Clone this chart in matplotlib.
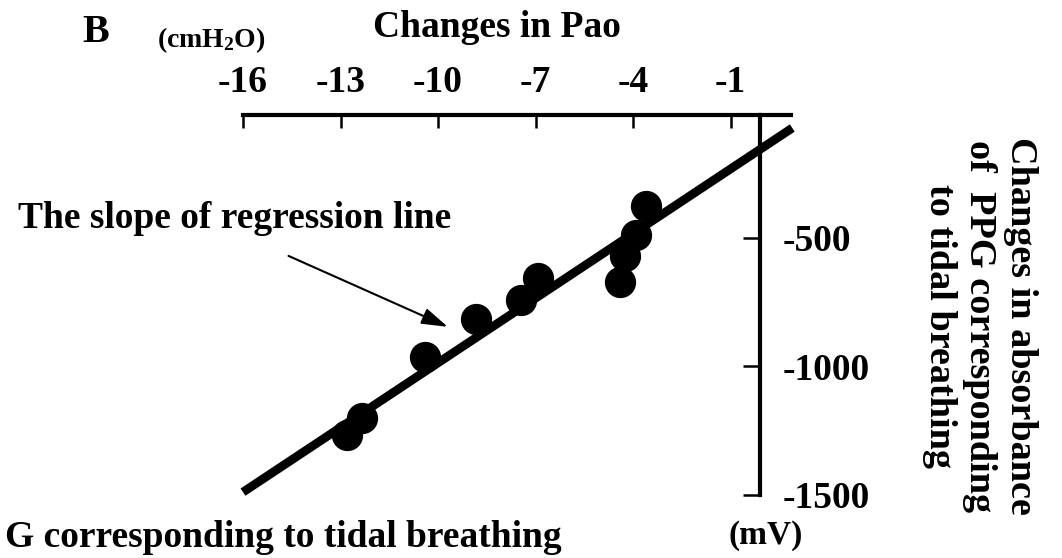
import matplotlib
matplotlib.use('Agg')
import matplotlib.pyplot as plt
import numpy as np

# data
pao = [-12.81, -12.34, -10.41, -8.83, -7.46, -6.91, -4.41, -4.24, -3.92, -3.61]
ppg = [-1265, -1199, -964, -816, -742, -657, -670, -572, -490, -376]
slope = 83.8
intercept = -148
line_x = [-16, 0.9]
xticks = [-16, -13, -10, -7, -4, -1]
xlabels = ['-16', '-13', '-10', '-7', '-4', '-1']
yticks = [-500, -1000, -1500]
ylabels = ['-500', '-1000', '-1500']

plt.rcParams['font.family'] = 'Liberation Serif'
plt.rcParams['font.weight'] = 'bold'
plt.rcParams['mathtext.fontset'] = 'custom'
plt.rcParams['mathtext.rm'] = 'Liberation Serif:bold'
plt.rcParams['mathtext.default'] = 'rm'

W, H = 1062, 558
fig = plt.figure(figsize=(W/100, H/100), dpi=100)
ax = fig.add_axes([243/W, 1-495/H, 548/W, 380/H])

# regression line and points
line_y = [intercept + slope*x for x in line_x]
ax.plot(line_x, line_y, color='k', lw=6.3, solid_capstyle='butt', clip_on=False, zorder=2)
ax.plot(pao, ppg, 'o', ms=21.5, color='k', mec='k', clip_on=False, zorder=3)

ax.set_xlim(-16, 0.86)
ax.set_ylim(-1500, -22)

# axes: top x axis, y axis crossing at x=0
ax.spines['left'].set_visible(False)
ax.spines['bottom'].set_visible(False)
ax.spines['top'].set_linewidth(3)
ax.spines['right'].set_linewidth(3)
ax.spines['right'].set_position(('data', -0.08))
ax.xaxis.tick_top()
ax.yaxis.tick_right()
ax.set_xticks(xticks)
ax.set_xticklabels(xlabels)
ax.set_yticks(yticks)
ax.set_yticklabels(ylabels)
ax.tick_params(axis='x', direction='in', length=9, width=1.8, pad=11, labelsize=27)
ax.tick_params(axis='y', direction='in', length=12, width=1.8, pad=16, labelsize=27)

# annotation arrow
ax.annotate('', xy=(-9.7, -846), xytext=(-14.6, -570),
            arrowprops=dict(arrowstyle='-|>,head_width=0.25,head_length=0.8',
                            color='k', lw=1.5, mutation_scale=20, shrinkA=0, shrinkB=0))
fig.text(18/W, 1-228/H, 'The slope of regression line', fontsize=27, va='baseline')

# labels
fig.text(82/W, 1-42/H, 'B', fontsize=29, va='baseline')
fig.text(157/W, 1-47/H, '(cmH$_2$O)', fontsize=20, va='baseline')
fig.text(373/W, 1-37/H, 'Changes in Pao', fontsize=27, va='baseline')
fig.text(5/W, 1-547/H, 'G corresponding to tidal breathing', fontsize=27, va='baseline')
fig.text(728/W, 1-544/H, '(mV)', fontsize=24, va='baseline')
fig.text(980/W, 1-326/H, 'Changes in absorbance\nof  PPG corresponding\nto tidal breathing',
         fontsize=27.5, rotation=270, ha='center', va='center', multialignment='center',
         linespacing=1.2)

fig.savefig('out.png', dpi=100)
